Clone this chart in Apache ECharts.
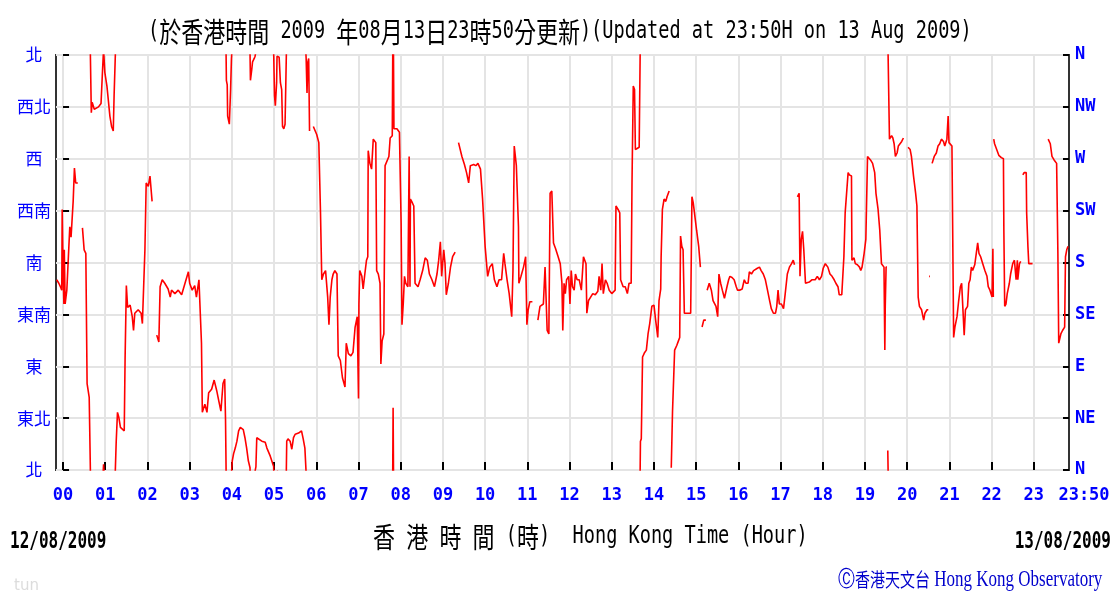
<!DOCTYPE html>
<html><head><meta charset="utf-8">
<script src="https://cdn.jsdelivr.net/npm/echarts@6/dist/echarts.min.js"></script>
<style>html,body{margin:0;padding:0;background:#fff}#c{width:1115px;height:594px}</style>
</head><body><div id="c"></div>
<script>
// time of each reading (hours, HK time) and wind direction (degrees, 0/360 = N); null = no data
const timeHour = [
-0.15,-0.10,-0.05,-0.03,-0.02,0.00,0.02,0.03,0.05,0.09,0.13,0.16,0.19,0.22,0.24,0.27,0.30,0.35,null,
0.46,0.50,0.54,0.57,0.62,0.66,0.67,0.69,0.74,0.84,0.90,0.93,0.96,0.99,1.04,1.07,1.11,1.15,1.19,1.21,1.26,1.29,1.32,1.36,1.45,1.47,1.50,1.53,1.59,1.64,1.67,1.70,1.78,1.85,1.88,1.92,1.94,1.97,2.02,2.06,2.10,2.11,null,
2.22,2.27,2.30,2.35,2.41,2.49,2.54,2.57,2.65,2.73,2.81,2.89,2.97,3.00,3.06,3.12,3.16,3.22,3.26,3.28,3.30,3.36,3.41,3.45,3.52,3.58,3.64,3.69,3.74,3.79,3.83,3.85,3.87,3.89,3.90,3.94,3.97,3.99,
4.01,4.04,4.08,4.12,4.16,4.20,4.24,4.27,4.31,4.35,4.39,4.43,4.44,4.47,4.49,4.53,4.55,4.57,4.59,4.63,4.71,4.79,4.83,4.91,4.99,5.01,5.03,5.06,5.07,5.12,5.15,5.18,5.20,5.23,5.26,5.29,5.30,5.33,5.38,5.42,5.46,5.50,5.58,5.62,5.65,5.69,5.73,5.76,5.78,5.80,5.82,5.84,null,
5.93,6.01,6.06,6.10,6.13,6.17,6.22,6.27,6.30,6.33,6.37,6.40,6.44,6.49,6.52,6.57,6.62,6.68,6.71,6.76,6.82,6.87,6.92,6.97,7.00,7.01,7.03,7.08,7.11,7.15,7.19,7.22,7.23,7.27,7.31,7.35,7.41,7.43,7.47,7.51,7.53,7.56,7.60,7.63,7.67,7.72,7.75,7.80,7.82,7.84,7.91,7.97,
8.01,8.03,8.06,8.09,8.12,8.17,8.20,8.22,8.23,8.26,8.31,8.34,8.41,8.46,8.52,8.58,8.63,8.68,8.74,8.80,8.86,8.90,8.94,8.97,9.02,9.05,9.08,9.13,9.18,9.23,9.29,null,
9.37,9.45,9.51,9.56,9.61,9.65,9.73,9.78,9.83,9.89,9.94,10.00,10.06,10.11,10.17,10.22,10.28,10.33,10.39,10.44,10.47,10.52,10.57,10.63,10.66,10.69,10.74,10.79,10.80,10.85,10.91,10.96,10.99,11.02,11.06,11.12,null,
11.25,11.30,11.38,11.42,11.47,11.51,11.54,11.58,11.62,11.67,11.73,11.78,11.82,11.84,11.87,11.90,11.93,11.98,12.01,12.04,12.07,12.11,12.14,12.18,12.23,12.28,12.33,12.39,12.41,12.45,12.50,12.55,12.61,12.67,12.70,12.74,12.77,12.80,12.85,12.89,12.94,13.00,13.08,13.10,13.15,13.19,13.21,13.27,13.32,13.37,13.41,13.46,13.48,13.49,13.51,13.54,13.56,13.59,13.65,13.68,13.70,13.73,13.78,13.82,13.86,13.90,13.95,14.00,14.04,14.09,14.12,14.16,14.17,14.20,14.24,14.28,14.31,14.36,null,
14.41,14.43,14.44,14.49,14.54,14.58,14.61,14.63,14.66,14.69,14.72,14.79,14.87,14.90,14.93,14.96,15.01,15.06,15.10,null,15.14,15.18,15.23,null,
15.26,15.31,15.36,15.40,15.47,15.51,15.54,15.58,15.62,15.67,15.73,15.77,15.80,15.85,15.90,15.95,15.98,16.03,16.09,16.14,16.18,16.23,16.26,16.31,16.36,16.40,16.45,16.50,16.54,16.59,16.64,16.69,16.74,16.78,16.83,16.88,16.91,16.94,16.97,17.02,17.07,17.11,17.16,17.21,17.26,17.30,17.33,null,
17.40,17.44,17.46,17.49,17.52,17.55,17.59,17.62,17.68,17.74,17.82,17.87,17.92,17.97,18.01,18.06,18.12,18.17,18.22,18.27,18.31,18.36,18.39,18.45,18.49,18.50,18.53,18.56,18.60,18.63,18.68,18.69,18.74,18.77,18.82,18.87,18.90,18.93,18.98,19.02,19.06,19.09,19.13,19.18,19.23,19.26,19.31,19.35,19.39,19.42,19.45,19.47,19.48,19.50,19.52,null,
19.54,19.57,19.58,19.61,19.63,19.66,19.69,19.72,19.76,19.79,19.83,19.87,19.91,null,
20.02,20.07,20.10,20.15,20.20,20.23,20.26,20.29,20.34,20.39,20.42,20.47,20.50,null,20.52,20.54,null,
20.59,20.64,20.69,20.73,20.77,20.81,20.86,20.89,20.94,20.97,20.99,21.03,21.06,21.08,21.10,21.13,21.18,21.22,21.26,21.29,21.32,21.35,21.38,21.43,21.46,21.49,21.52,21.55,21.60,21.63,21.67,21.70,21.74,21.79,21.84,21.89,21.92,21.96,22.01,22.03,22.04,null,
22.05,22.07,22.12,22.17,22.23,22.28,22.29,22.31,22.34,22.37,22.42,22.45,22.50,22.54,22.58,22.61,22.62,22.66,22.69,null,
22.74,22.77,22.82,22.83,22.86,22.88,22.93,22.97,null,
23.34,23.39,23.43,23.48,23.54,23.57,23.59,23.64,23.68,23.73,23.75,23.78,23.81
];
const dirDeg = [
165,162,158,156,226,175,144,191,144,156,156,211,202,202,233,262,249,249,null,
210,191,188,75,63,63,310,319,313,315,318,342,5,345,333,322,307,298,294,325,25,50,46,37,34,96,160,141,143,133,121,136,139,136,127,127,191,249,246,255,256,233,null,
117,111,159,165,162,157,150,156,153,156,152,162,172,162,156,160,150,165,166,110,50,57,50,67,70,78,69,60,51,75,79,43,338,334,307,300,330,357,
8,14,19,25,34,37,38,35,28,19,8,2,338,347,354,357,359,3,28,27,25,24,19,12,3,325,316,336,359,358,336,330,298,296,300,359,25,27,25,18,28,31,32,31,34,27,19,357,327,354,357,294,null,
298,291,284,223,165,170,173,150,126,150,165,170,173,170,99,95,80,72,110,101,99,102,124,133,62,144,173,168,157,170,182,185,277,266,261,287,284,173,170,162,92,112,118,264,265,272,288,290,54,296,296,293,
214,126,144,168,162,159,272,159,235,233,229,162,159,165,173,184,182,170,165,159,170,182,198,168,191,179,152,162,176,185,189,null,
284,272,265,258,249,264,265,264,266,261,235,194,168,176,179,165,159,165,165,188,179,165,153,133,173,281,264,211,162,168,176,185,126,139,146,146,null,
130,142,144,176,121,118,240,242,197,192,185,179,162,121,162,153,165,168,144,173,159,156,170,165,165,156,185,179,136,147,150,153,152,155,168,156,179,153,165,162,156,153,156,229,226,223,165,159,159,153,162,162,249,278,333,330,278,279,280,25,27,98,102,104,118,127,142,143,130,115,147,157,185,226,235,233,237,242,null,
2,3,51,104,108,112,115,203,194,191,136,136,136,237,232,223,208,194,176,null,124,130,130,null,
156,162,156,147,142,133,170,162,156,149,159,165,168,167,165,159,156,156,157,165,162,162,172,170,173,172,175,176,173,170,165,156,147,140,136,136,142,156,144,144,140,153,170,176,179,182,178,null,
237,240,168,200,207,191,162,162,163,165,165,168,165,168,175,179,176,170,168,165,162,159,152,152,153,185,223,223,258,256,255,182,184,179,178,176,173,176,188,200,272,272,269,266,258,240,226,208,179,178,176,104,142,176,176,null,
17,16,287,287,290,288,283,272,275,281,283,285,288,null,
280,278,272,255,240,229,150,142,139,130,136,139,139,null,168,168,null,
266,272,275,281,283,287,285,281,287,307,284,283,281,198,115,124,133,147,159,162,162,117,139,142,162,165,176,173,178,179,197,188,185,179,173,168,159,156,150,192,150,null,
287,283,278,273,271,270,208,142,144,153,162,170,179,182,165,182,165,179,181,null,
256,258,258,223,194,179,179,179,null,
287,283,272,269,266,188,110,118,121,124,185,191,194
];
const dirLabelsZh = ['北','東北','東','東南','南','西南','西','西北','北'];
const dirLabelsEn = ['N','NE','E','SE','S','SW','W','NW','N'];
const hourTicks = [0,1,2,3,4,5,6,7,8,9,10,11,12,13,14,15,16,17,18,19,20,21,22,23];
const startHour = -10/60;
const endHour = 23 + 50/60;
const titleText = '(於香港時間 2009 年08月13日23時50分更新)(Updated at 23:50H on 13 Aug 2009)';
const axisNameText = '香 港 時 間 (時)  Hong Kong Time (Hour)';
const dateStart = '12/08/2009';
const dateEnd = '13/08/2009';
const creditText = 'Ⓒ香港天文台 Hong Kong Observatory';

// wind direction wraps at N: follow the shortest path and draw shifted copies clipped to 0..360
function unwrapped() {
  const out = []; let prevRaw = null, prevU = null;
  for (let i = 0; i < timeHour.length; i++) {
    const d = dirDeg[i];
    if (d == null || timeHour[i] == null) { out.push(null); prevRaw = null; continue; }
    let u;
    if (prevRaw == null) u = d;
    else { let diff = d - prevRaw; if (diff > 180) diff -= 360; if (diff < -180) diff += 360; u = prevU + diff; }
    out.push([timeHour[i], u]); prevRaw = d; prevU = u;
  }
  return out;
}
const base = unwrapped();
const series = [-2,-1,0,1,2].map(k => ({
  type: 'line', clip: true, showSymbol: false, symbol: 'none', silent: true,
  lineStyle: { color: '#ff0000', width: 1.6 },
  data: base.map(p => p ? [p[0], p[1] + k * 360] : '-')
}));

function richify(s) {
  let out = '', cur = '', curT = null;
  for (const ch of s) {
    const t = /[\u3000-\u9fff\uff00-\uffef]/.test(ch) ? 'c' : 'a';
    if (t !== curT && cur) { out += '{' + curT + '|' + cur + '}'; cur = ''; }
    curT = t; cur += ch;
  }
  if (cur) out += '{' + curT + '|' + cur + '}';
  return out;
}
const monoRich = {
  a: { fontFamily: 'DejaVu Sans Mono', fontSize: 18.6, fill: '#000' },
  c: { fontFamily: 'Noto Sans CJK TC', fontSize: 22, fill: '#000' }
};

const chart = echarts.init(document.getElementById('c'), null, { renderer: 'canvas' });
chart.setOption({
  animation: false,
  backgroundColor: '#fff',
  grid: { left: 56, right: 46, top: 55, bottom: 124, show: true, borderColor: '#333', borderWidth: 2, backgroundColor: 'transparent' },
  xAxis: {
    type: 'value', min: startHour, max: endHour,
    axisLine: { show: false },
    axisTick: { show: true, inside: true, length: 8, lineStyle: { color: '#000', width: 2 }, customValues: hourTicks },
    axisLabel: {
      customValues: hourTicks.concat([endHour]),
      formatter: v => v > 23.5 ? '{r|23:50}' : (v < 10 ? '0' : '') + Math.round(v),
      color: '#0000ff', fontFamily: 'DejaVu Sans Mono', fontWeight: 'bold', fontSize: 17, margin: 17,
      rich: { r: { color: '#0000ff', fontFamily: 'DejaVu Sans Mono', fontWeight: 'bold', fontSize: 17, padding: [0, 0, 0, 30] } }
    },
    splitLine: { show: true, lineStyle: { color: '#e4e4e4', width: 2 } }
  },
  yAxis: [
    {
      type: 'value', min: 0, max: 360, interval: 45, position: 'left',
      axisLine: { show: false },
      axisTick: { show: true, inside: true, length: 6, lineStyle: { color: '#000', width: 2 } },
      axisLabel: { formatter: v => dirLabelsZh[Math.round(v / 45)], color: '#0000ff', fontFamily: 'Noto Sans CJK TC', fontSize: 17, align: 'center', margin: 22 },
      splitLine: { show: true, lineStyle: { color: '#e4e4e4', width: 2 } }
    },
    {
      type: 'value', min: 0, max: 360, interval: 45, position: 'right',
      axisLine: { show: false },
      axisTick: { show: true, inside: true, length: 6, lineStyle: { color: '#000', width: 2 } },
      axisLabel: { formatter: v => dirLabelsEn[Math.round(v / 45)], color: '#0000ff', fontFamily: 'DejaVu Sans Mono', fontWeight: 'bold', fontSize: 17, align: 'left', margin: 6 },
      splitLine: { show: false }
    }
  ],
  series: series,
  graphic: [
    { type: 'text', x: 148, y: 32, scaleY: 1.3, style: { text: richify(titleText), rich: monoRich, align: 'left', verticalAlign: 'middle' } },
    { type: 'text', x: 373, y: 537, scaleY: 1.3, style: { text: richify(axisNameText), rich: monoRich, align: 'left', verticalAlign: 'middle' } },
    { type: 'text', x: 10, y: 542, scaleY: 1.4, style: { text: dateStart, font: 'bold 16px "DejaVu Sans Mono"', fill: '#000', align: 'left', verticalAlign: 'middle' } },
    { type: 'text', x: 1111, y: 542, scaleY: 1.4, style: { text: dateEnd, font: 'bold 16px "DejaVu Sans Mono"', fill: '#000', align: 'right', verticalAlign: 'middle' } },
    { type: 'text', x: 838, y: 580, scaleY: 1.3, style: { text: richify(creditText), align: 'left', verticalAlign: 'middle',
      rich: { a: { fontFamily: 'Liberation Serif', fontSize: 17, fill: '#0000cc' }, c: { fontFamily: 'Noto Sans CJK TC', fontSize: 15, fill: '#0000cc' } } } },
    { type: 'text', x: 14, y: 586, style: { text: 'tun', font: '15px "DejaVu Sans"', fill: '#dcdcdc', align: 'left', verticalAlign: 'middle' } }
  ]
});
</script>
</body></html>
